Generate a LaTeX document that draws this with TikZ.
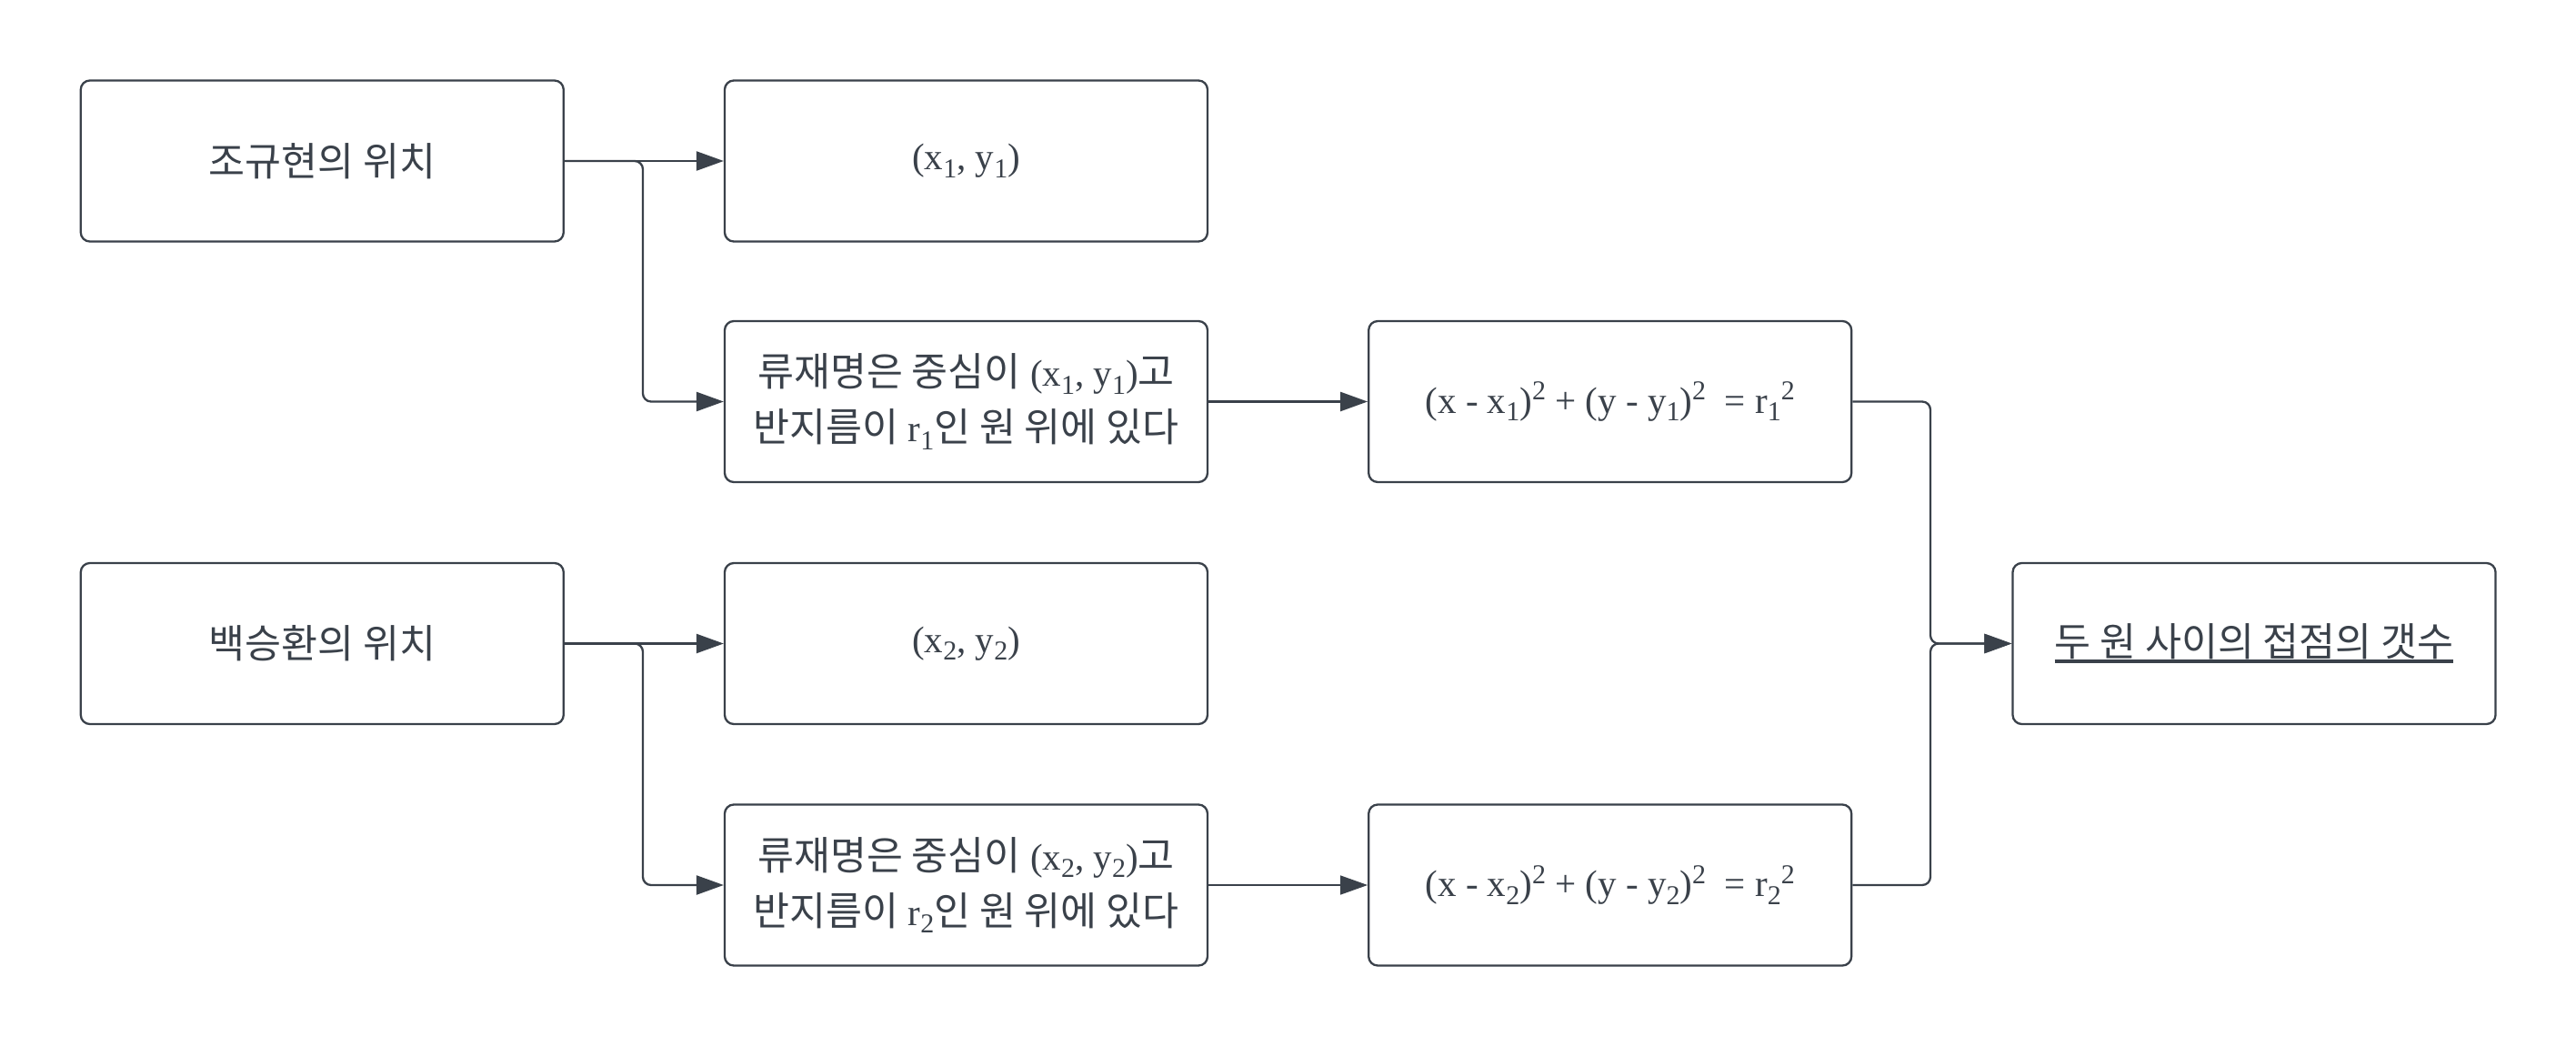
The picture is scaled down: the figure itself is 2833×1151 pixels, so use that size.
\documentclass[tikz,border=0pt]{standalone}
\usepackage{fontspec}
\setmainfont{Liberation Serif}
\newfontfamily\kr[Scale=1.06]{Noto Sans CJK KR}
\usetikzlibrary{arrows.meta}
\definecolor{ink}{RGB}{58,65,74}
\newcommand\dsub[1]{\raisebox{-0.2em}{\fontsize{30}{30}\selectfont #1}}
\newcommand\dsup[1]{\raisebox{0.36em}{\fontsize{30}{30}\selectfont #1}}
\newcommand\uln[1]{\setbox0\hbox{#1}\rlap{\rule[-7pt]{\wd0}{3.5pt}}\box0}
\tikzset{
  box/.style={draw=ink, line width=2.3pt, rounded corners=10pt, fill=white,
    minimum width=531pt, minimum height=177pt, text=ink, align=center,
    font=\fontsize{41}{61}\selectfont, inner sep=0pt},
  conn/.style={draw=ink, line width=2.3pt, rounded corners=9pt,
    -{Triangle[length=30pt,width=21pt]}},
}
\begin{document}
\begin{tikzpicture}[x=1pt,y=-1pt]
\useasboundingbox[fill=white] (0,0) rectangle (2833,1151);
\node[box] (A) at (354.3,177) {{\kr 조규현의 위치}};
\node[box] (B) at (1062.5,177) {(x\dsub{1}, y\dsub{1})};
\node[box] (C) at (1062.5,441.5) {{\kr 류재명은 중심이} (x\dsub{1}, y\dsub{1}){\kr 고}\\{\kr 반지름이} r\dsub{1}{\kr 인 원 위에 있다}};
\node[box] (D) at (1770.7,441.5) {(x - x\dsub{1})\dsup{2} + (y - y\dsub{1})\dsup{2} \ = r\dsub{1}\dsup{2}};
\node[box] (E) at (354.3,707.5) {{\kr 백승환의 위치}};
\node[box] (F) at (1062.5,707.5) {(x\dsub{2}, y\dsub{2})};
\node[box] (G) at (1062.5,973) {{\kr 류재명은 중심이} (x\dsub{2}, y\dsub{2}){\kr 고}\\{\kr 반지름이} r\dsub{2}{\kr 인 원 위에 있다}};
\node[box] (H) at (1770.7,973) {(x - x\dsub{2})\dsup{2} + (y - y\dsub{2})\dsup{2} \ = r\dsub{2}\dsup{2}};
\node[box] (I) at (2479,707.5) {\uln{\kr 두 원 사이의 접점의 갯수}};
\coordinate (j1) at (707,177);
\coordinate (j2) at (707,707.5);
\coordinate (j3) at (2123,707.5);
\draw[conn] (A.east) -- (B.west);
\draw[conn] (A.east) -- (j1) |- (C.west);
\draw[conn] (E.east) -- (F.west);
\draw[conn] (E.east) -- (j2) |- (G.west);
\draw[conn] (C.east) -- (D.west);
\draw[conn, line width=1.3pt] (G.east) -- (H.west);
\draw[conn] (D.east) -| (j3) -- (I.west);
\draw[conn] (H.east) -| (j3) -- (I.west);
\end{tikzpicture}
\end{document}
